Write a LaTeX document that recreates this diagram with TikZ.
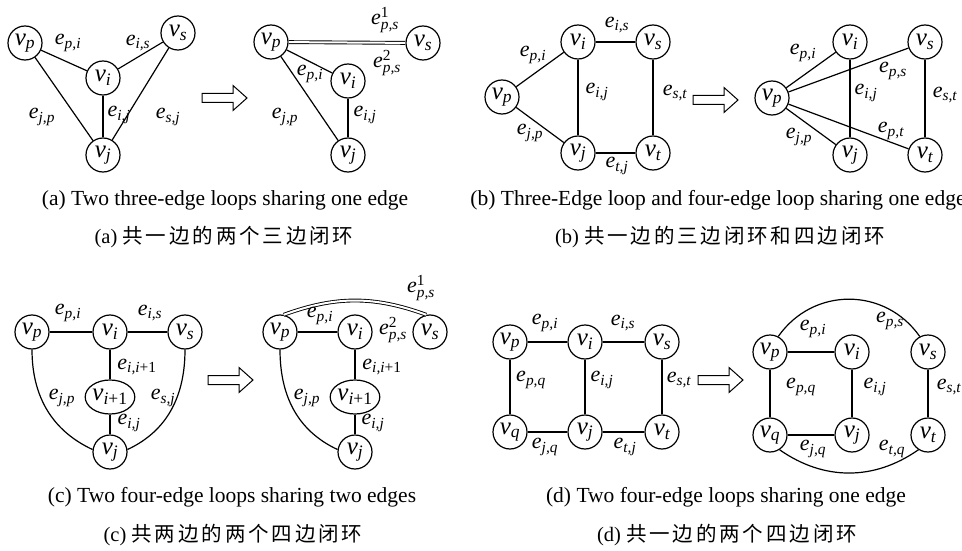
\documentclass[tikz,border=0pt]{standalone}
\usepackage{amsmath}
\usepackage{fontspec}
\setmainfont{Liberation Serif}
\newfontfamily\cjk[LetterSpace=14]{Noto Sans CJK SC}
\usetikzlibrary{shapes.geometric}
\newcommand{\Vn}[1]{$\text{\itshape v}_{\text{\itshape #1}}$}
\newcommand{\En}[1]{$\text{\itshape e}_{\text{\itshape #1}}$}
\newcommand{\Eu}[2]{$\text{\itshape e}^{\text{#1}}_{\text{\itshape #2}}$}
\newcommand{\hollowarrow}[2]{%
  \draw[line width=1pt, fill=white] (#1,-#2+4.5) -- (#1+31,-#2+4.5) -- (#1+31,-#2+12.5) -- (#1+45,-#2) -- (#1+31,-#2-12.5) -- (#1+31,-#2-4.5) -- (#1,-#2-4.5) -- cycle;}
\begin{document}
\begin{tikzpicture}[x=1pt,y=1pt,
  vert/.style={circle, draw, line width=1.2pt, minimum size=34pt, inner sep=0pt, fill=white, font=\fontsize{25}{28}\selectfont},
  vell/.style={ellipse, draw, line width=1.2pt, minimum width=44pt, minimum height=34pt, inner sep=0pt, fill=white, font=\fontsize{25}{28}\selectfont},
  elab/.style={inner sep=0pt, font=\fontsize{22}{24}\selectfont},
  edg/.style={line width=1.2pt},
  dbl/.style={line width=0.9pt, double, double distance=2pt},
  capen/.style={anchor=base, inner sep=0pt, font=\fontsize{21.5}{24}\selectfont},
  capzh/.style={anchor=base, inner sep=0pt, font=\fontsize{20.5}{24}\selectfont}]
\useasboundingbox (0,0) rectangle (962,-551);

% ---------------- (a) left
\node[vert] (apL) at (25,-43) {\Vn{p}};
\node[vert] (aiL) at (103,-78) {\Vn{i}};
\node[vert] (asL) at (178,-33) {\Vn{s}};
\node[vert] (ajL) at (103,-155) {\Vn{j}};
\draw[edg] (apL) -- (aiL);
\draw[edg] (aiL) -- (asL);
\draw[edg] (aiL) -- (ajL);
\draw[edg] (apL) -- (ajL);
\draw[edg] (asL) -- (ajL);
\node[elab] (aL1) at (68,-43) {\En{p,i}};
\node[elab] (aL2) at (138,-43) {\En{i,s}};
\node[elab] (aL3) at (42,-117) {\En{j,p}};
\node[elab] (aL4) at (119,-115) {\En{i,j}};
\node[elab] (aL5) at (168,-117) {\En{s,j}};
\hollowarrow{202}{98}

% ---------------- (a) right
\node[vert] (apR) at (271,-42) {\Vn{p}};
\node[vert] (asR) at (423,-43) {\Vn{s}};
\node[vert] (aiR) at (348,-81) {\Vn{i}};
\node[vert] (ajR) at (348,-155) {\Vn{j}};
\draw[dbl] (apR) -- (asR);
\draw[edg] (apR) -- (aiR);
\draw[edg] (aiR) -- (ajR);
\draw[edg] (apR) -- (ajR);
\node[elab] (aR1) at (385,-20) {\Eu{1}{p,s}};
\node[elab] (aR2) at (387,-63) {\Eu{2}{p,s}};
\node[elab] (aR3) at (310,-74) {\En{p,i}};
\node[elab] (aR4) at (285,-117) {\En{j,p}};
\node[elab] (aR5) at (365,-115) {\En{i,j}};

\node[capen] (capAen) at (225,-205) {(a) Two three-edge loops sharing one edge};
\node[capzh] (capAzh) at (224,-243) {(a) {\cjk 共一边的两个三边闭环}};

% ---------------- (b) left
\node[vert] (bpL) at (502,-97) {\Vn{p}};
\node[vert] (biL) at (578,-42) {\Vn{i}};
\node[vert] (bsL) at (653,-42) {\Vn{s}};
\node[vert] (bjL) at (578,-153) {\Vn{j}};
\node[vert] (btL) at (653,-153) {\Vn{t}};
\draw[edg] (bpL) -- (biL);
\draw[edg] (biL) -- (bsL);
\draw[edg] (biL) -- (bjL);
\draw[edg] (bsL) -- (btL);
\draw[edg] (bpL) -- (bjL);
\draw[edg] (bjL) -- (btL);
\node[elab] (bL1) at (533,-55) {\En{p,i}};
\node[elab] (bL2) at (617,-25) {\En{i,s}};
\node[elab] (bL3) at (597,-92) {\En{i,j}};
\node[elab] (bL4) at (675,-93) {\En{s,t}};
\node[elab] (bL5) at (530,-133) {\En{j,p}};
\node[elab] (bL6) at (617,-166) {\En{t,j}};
\hollowarrow{693}{100}

% ---------------- (b) right
\node[vert] (bpR) at (772,-98) {\Vn{p}};
\node[vert] (biR) at (850,-42) {\Vn{i}};
\node[vert] (bsR) at (925,-42) {\Vn{s}};
\node[vert] (bjR) at (850,-155) {\Vn{j}};
\node[vert] (btR) at (925,-155) {\Vn{t}};
\draw[edg] (bpR) -- (biR);
\draw[edg] (bpR) -- (bsR);
\draw[edg] (biR) -- (bjR);
\draw[edg] (bsR) -- (btR);
\draw[edg] (bpR) -- (bjR);
\draw[edg] (bpR) -- (btR);
\node[elab] (bR1) at (803,-53) {\En{p,i}};
\node[elab] (bR2) at (893,-71) {\En{p,s}};
\node[elab] (bR3) at (866,-93) {\En{i,j}};
\node[elab] (bR4) at (945,-95) {\En{s,t}};
\node[elab] (bR5) at (799,-137) {\En{j,p}};
\node[elab] (bR6) at (891,-131) {\En{p,t}};

\node[capen] (capBen) at (718,-205) {(b) Three-Edge loop and four-edge loop sharing one edge};
\node[capzh] (capBzh) at (720,-243) {(b) {\cjk 共一边的三边闭环和四边闭环}};

% ---------------- (c) left
\node[vert] (cpL) at (32,-332) {\Vn{p}};
\node[vert] (ciL) at (110,-332) {\Vn{i}};
\node[vert] (csL) at (185,-332) {\Vn{s}};
\node[vell] (ckL) at (110,-397) {\Vn{i\textup{+1}}};
\node[vert] (cjL) at (110,-452) {\Vn{j}};
\draw[edg] (cpL) -- (ciL);
\draw[edg] (ciL) -- (csL);
\draw[edg] (ciL) -- (ckL);
\draw[edg] (ckL) -- (cjL);
\draw[edg] (cpL.south) to[out=-90,in=155] (cjL.172);
\draw[edg] (csL.south) to[out=-90,in=25] (cjL.8);
\node[elab] (cL1) at (68,-313) {\En{p,i}};
\node[elab] (cL2) at (150,-313) {\En{i,s}};
\node[elab] (cL3) at (137,-367) {\En{i,i\textup{+1}}};
\node[elab] (cL4) at (62,-398) {\En{j,p}};
\node[elab] (cL5) at (163,-398) {\En{s,j}};
\node[elab] (cL6) at (129,-423) {\En{i,j}};
\hollowarrow{208}{380}

% ---------------- (c) right
\node[vert] (cpR) at (280,-332) {\Vn{p}};
\node[vert] (ciR) at (355,-332) {\Vn{i}};
\node[vert] (csR) at (430,-332) {\Vn{s}};
\node[vell] (ckR) at (355,-397) {\Vn{i\textup{+1}}};
\node[vert] (cjR) at (355,-452) {\Vn{j}};
\draw[edg] (cpR) -- (ciR);
\draw[edg] (ciR) -- (ckR);
\draw[edg] (ckR) -- (cjR);
\draw[edg] (cpR.south) to[out=-90,in=155] (cjR.172);
\draw[dbl] (cpR.78) to[out=20,in=160] (csR.102);
\node[elab] (cR1) at (421,-288) {\Eu{1}{p,s}};
\node[elab] (cR2) at (393,-330) {\Eu{2}{p,s}};
\node[elab] (cR3) at (320,-316) {\En{p,i}};
\node[elab] (cR4) at (382,-367) {\En{i,i\textup{+1}}};
\node[elab] (cR5) at (307,-398) {\En{j,p}};
\node[elab] (cR6) at (373,-423) {\En{i,j}};

\node[capen] (capCen) at (232,-502) {(c) Two four-edge loops sharing two edges};
\node[capzh] (capCzh) at (233,-541) {(c) {\cjk 共两边的两个四边闭环}};

% ---------------- (d) left
\node[vert] (dpL) at (510,-342) {\Vn{p}};
\node[vert] (diL) at (585,-342) {\Vn{i}};
\node[vert] (dsL) at (662,-342) {\Vn{s}};
\node[vert] (dqL) at (510,-432) {\Vn{q}};
\node[vert] (djL) at (585,-432) {\Vn{j}};
\node[vert] (dtL) at (662,-432) {\Vn{t}};
\draw[edg] (dpL) -- (diL);
\draw[edg] (diL) -- (dsL);
\draw[edg] (dpL) -- (dqL);
\draw[edg] (diL) -- (djL);
\draw[edg] (dsL) -- (dtL);
\draw[edg] (dqL) -- (djL);
\draw[edg] (djL) -- (dtL);
\node[elab] (dL1) at (545,-323) {\En{p,i}};
\node[elab] (dL2) at (623,-323) {\En{i,s}};
\node[elab] (dL3) at (531,-380) {\En{p,q}};
\node[elab] (dL4) at (602,-380) {\En{i,j}};
\node[elab] (dL5) at (679,-380) {\En{s,t}};
\node[elab] (dL6) at (545,-447) {\En{j,q}};
\node[elab] (dL7) at (625,-447) {\En{t,j}};
\hollowarrow{698}{380}

% ---------------- (d) right
\node[vert] (dpR) at (770,-352) {\Vn{p}};
\node[vert] (diR) at (852,-352) {\Vn{i}};
\node[vert] (dsR) at (928,-352) {\Vn{s}};
\node[vert] (dqR) at (770,-435) {\Vn{q}};
\node[vert] (djR) at (852,-435) {\Vn{j}};
\node[vert] (dtR) at (928,-435) {\Vn{t}};
\draw[edg] (dpR) -- (diR);
\draw[edg] (dpR) -- (dqR);
\draw[edg] (diR) -- (djR);
\draw[edg] (dsR) -- (dtR);
\draw[edg] (dqR) -- (djR);
\draw[edg] (dpR.62) to[out=55,in=125,looseness=1.1] (dsR.118);
\draw[edg] (dqR.-57) to[out=-35,in=-145] (dtR.-123);
\node[elab] (dR1) at (813,-329) {\En{p,i}};
\node[elab] (dR2) at (890,-321) {\En{p,s}};
\node[elab] (dR3) at (801,-387) {\En{p,q}};
\node[elab] (dR4) at (875,-387) {\En{i,j}};
\node[elab] (dR5) at (949,-387) {\En{s,t}};
\node[elab] (dR6) at (813,-449) {\En{j,q}};
\node[elab] (dR7) at (892,-449) {\En{t,q}};

\node[capen] (capDen) at (726,-502) {(d) Two four-edge loops sharing one edge};
\node[capzh] (capDzh) at (727,-541) {(d) {\cjk 共一边的两个四边闭环}};
\end{tikzpicture}
\end{document}
